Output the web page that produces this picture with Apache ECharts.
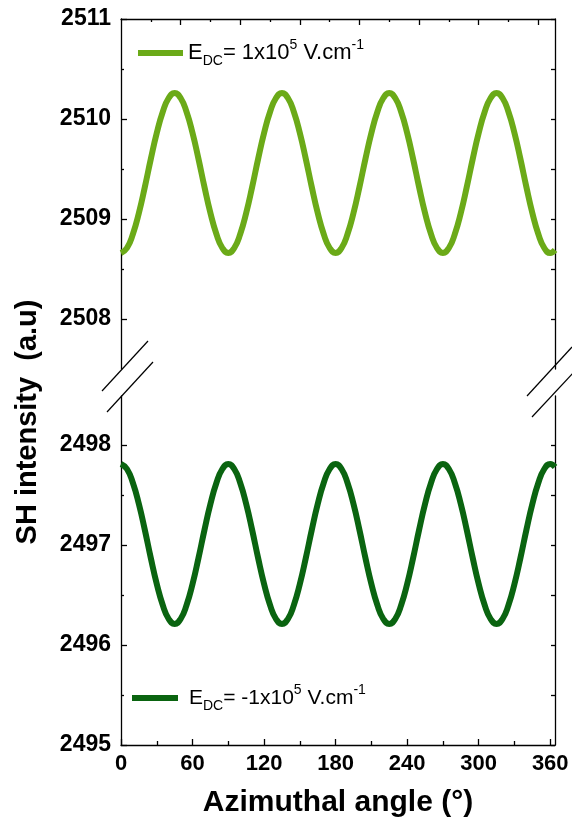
<!DOCTYPE html>
<html><head><meta charset="utf-8">
<script src="https://cdn.jsdelivr.net/npm/echarts@6/dist/echarts.min.js"></script>
<style>html,body{margin:0;padding:0;background:#fff}#c{width:572px;height:825px}</style>
</head><body><div id="c"></div>
<script>
// ---- data ----
const angles = [0,5,10,15,20,25,30,35,40,45,50,55,60,65,70,75,80,85,
  90,95,100,105,110,115,120,125,130,135,140,145,150,155,160,165,170,175,
  180,185,190,195,200,205,210,215,220,225,230,235,240,245,250,255,260,265,
  270,275,280,285,290,295,300,305,310,315,320,325,330,335,340,345,350,355,
  360,364];
const intensityPos = [
  2508.66,2508.71,2508.85,2509.06,2509.32,2509.60,2509.86,2510.07,2510.21,2510.26,2510.21,2510.07,2509.86,2509.60,2509.32,2509.06,2508.85,2508.71,
  2508.66,2508.71,2508.85,2509.06,2509.32,2509.60,2509.86,2510.07,2510.21,2510.26,2510.21,2510.07,2509.86,2509.60,2509.32,2509.06,2508.85,2508.71,
  2508.66,2508.71,2508.85,2509.06,2509.32,2509.60,2509.86,2510.07,2510.21,2510.26,2510.21,2510.07,2509.86,2509.60,2509.32,2509.06,2508.85,2508.71,
  2508.66,2508.71,2508.85,2509.06,2509.32,2509.60,2509.86,2510.07,2510.21,2510.26,2510.21,2510.07,2509.86,2509.60,2509.32,2509.06,2508.85,2508.71,
  2508.66,2508.69];
const intensityNeg = [
  2497.81,2497.76,2497.62,2497.41,2497.15,2496.87,2496.61,2496.40,2496.26,2496.21,2496.26,2496.40,2496.61,2496.87,2497.15,2497.41,2497.62,2497.76,
  2497.81,2497.76,2497.62,2497.41,2497.15,2496.87,2496.61,2496.40,2496.26,2496.21,2496.26,2496.40,2496.61,2496.87,2497.15,2497.41,2497.62,2497.76,
  2497.81,2497.76,2497.62,2497.41,2497.15,2496.87,2496.61,2496.40,2496.26,2496.21,2496.26,2496.40,2496.61,2496.87,2497.15,2497.41,2497.62,2497.76,
  2497.81,2497.76,2497.62,2497.41,2497.15,2496.87,2496.61,2496.40,2496.26,2496.21,2496.26,2496.40,2496.61,2496.87,2497.15,2497.41,2497.62,2497.76,
  2497.81,2497.78];
const seriesNames = ['E_DC= 1x10^5 V.cm^-1', 'E_DC= -1x10^5 V.cm^-1'];
const xMajorTicks = [0,60,120,180,240,300,360];
const xMinorTicks = [30,90,150,210,270,330];
const topMajorTicks = [50,100,150,200,250,300,350];
const topMinorTicks = [25,75,125,175,225,275,325];
const yTopLabels = [2508,2509,2510,2511];
const yTopMinor = [2508.5,2509.5,2510.5];
const yBotLabels = [2495,2496,2497,2498];
const yBotMinor = [2495.5,2496.5,2497.5];
const xTitle = 'Azimuthal angle (°)';
const yTitle = 'SH intensity  (a.u)';

// ---- styles ----
const FONT = "'Liberation Sans', Arial, Helvetica, sans-serif";
const LINE = {color:'#000', width:1.3};
const colPos = '#6BAA18';
const colNeg = '#0A6410';
const X_MIN = 0, X_MAX = 364;
const plain = v => String(Math.round(v));

function xAx(grid, pos, ticks, len, labels, showLine){
  return {type:'value', gridIndex:grid, position:pos, min:X_MIN, max:X_MAX,
    axisLine:{show:showLine, lineStyle:LINE},
    axisTick:{show:true, inside:true, length:len, customValues:ticks, lineStyle:LINE},
    axisLabel:labels ? {show:true, customValues:labels, formatter:plain, fontSize:22, fontWeight:'bold', color:'#000', fontFamily:FONT, margin:8} : {show:false},
    splitLine:{show:false}};
}
function yAx(grid, pos, min, max, ticks, len, labels, showLine){
  return {type:'value', gridIndex:grid, position:pos, min:min, max:max,
    axisLine:{show:showLine, lineStyle:LINE},
    axisTick:{show:true, inside:true, length:len, customValues:ticks, lineStyle:LINE},
    axisLabel:labels ? {show:true, customValues:labels, formatter:plain, fontSize:23, fontWeight:'bold', color:'#000', fontFamily:FONT, margin:10} : {show:false},
    splitLine:{show:false}};
}

function makeRich(fs){
  return {
    m:{fontSize:fs, lineHeight:30, verticalAlign:'middle', color:'#000', fontFamily:FONT},
    s:{fontSize:14, lineHeight:14, verticalAlign:'bottom', color:'#000', fontFamily:FONT},
    p:{fontSize:14, lineHeight:14, verticalAlign:'top', color:'#000', fontFamily:FONT},
    g:{fontSize:fs, lineHeight:30, width:6}
  };
}
function legendFmt(name){
  const neg = name.indexOf('= -') >= 0;
  return (neg ? '{g|}' : '') + '{m|E}{s|DC}{m|= ' + (neg ? '-' : '') + '1x10}{p|5}{m| V.cm}{p|-1}';
}

const chart = echarts.init(document.getElementById('c'), null, {renderer:'canvas'});
chart.setOption({
  animation:false,
  backgroundColor:'#fff',
  grid:[
    {left:121, top:19, width:434, height:350},
    {left:121, top:396, width:434, height:349}
  ],
  xAxis:[
    xAx(0,'top',topMajorTicks,6,null,true),
    xAx(0,'top',topMinorTicks,3,null,false),
    xAx(1,'bottom',xMajorTicks,6,xMajorTicks,true),
    xAx(1,'bottom',xMinorTicks,4,null,false)
  ],
  yAxis:[
    yAx(0,'left',2507.5,2511,yTopLabels,6,yTopLabels,true),
    yAx(0,'left',2507.5,2511,yTopMinor,3,null,false),
    yAx(0,'right',2507.5,2511,yTopLabels.concat(yTopMinor),4,null,true),
    yAx(1,'left',2495,2498.49,yBotLabels,6,yBotLabels,true),
    yAx(1,'left',2495,2498.49,yBotMinor,3,null,false),
    yAx(1,'right',2495,2498.49,yBotLabels.concat(yBotMinor),4,null,true)
  ],
  legend:[
    {data:[seriesNames[0]], left:133, top:33, padding:5, icon:'rect', itemWidth:45, itemHeight:6, selectedMode:false,
     formatter:legendFmt, textStyle:{rich:makeRich(22)}},
    {data:[seriesNames[1]], left:127, top:678, padding:5, icon:'rect', itemWidth:46, itemHeight:6, selectedMode:false,
     formatter:legendFmt, textStyle:{rich:makeRich(21)}}
  ],
  series:[
    {name:seriesNames[0], type:'line', xAxisIndex:0, yAxisIndex:0, showSymbol:false, smooth:true,
     data:angles.map((a,i)=>[a,intensityPos[i]]), lineStyle:{color:colPos, width:6}, itemStyle:{color:colPos}},
    {name:seriesNames[1], type:'line', xAxisIndex:2, yAxisIndex:3, showSymbol:false, smooth:true,
     data:angles.map((a,i)=>[a,intensityNeg[i]]), lineStyle:{color:colNeg, width:6}, itemStyle:{color:colNeg}}
  ],
  graphic:[
    {type:'line', shape:{x1:102,y1:391,x2:148,y2:341}, style:{stroke:'#000', lineWidth:1.2}},
    {type:'line', shape:{x1:107,y1:412,x2:153,y2:362}, style:{stroke:'#000', lineWidth:1.2}},
    {type:'line', shape:{x1:527,y1:396,x2:572,y2:347}, style:{stroke:'#000', lineWidth:1.2}},
    {type:'line', shape:{x1:532,y1:417,x2:574,y2:372}, style:{stroke:'#000', lineWidth:1.2}},
    {type:'text', x:28, y:422, rotation:Math.PI/2,
     style:{text:yTitle, fontSize:29, fontWeight:'bold', fontFamily:FONT, fill:'#000', align:'center', verticalAlign:'middle'}},
    {type:'text', x:338, y:803,
     style:{text:xTitle, fontSize:30, fontWeight:'bold', fontFamily:FONT, fill:'#000', align:'center', verticalAlign:'middle'}}
  ]
});
</script></body></html>
